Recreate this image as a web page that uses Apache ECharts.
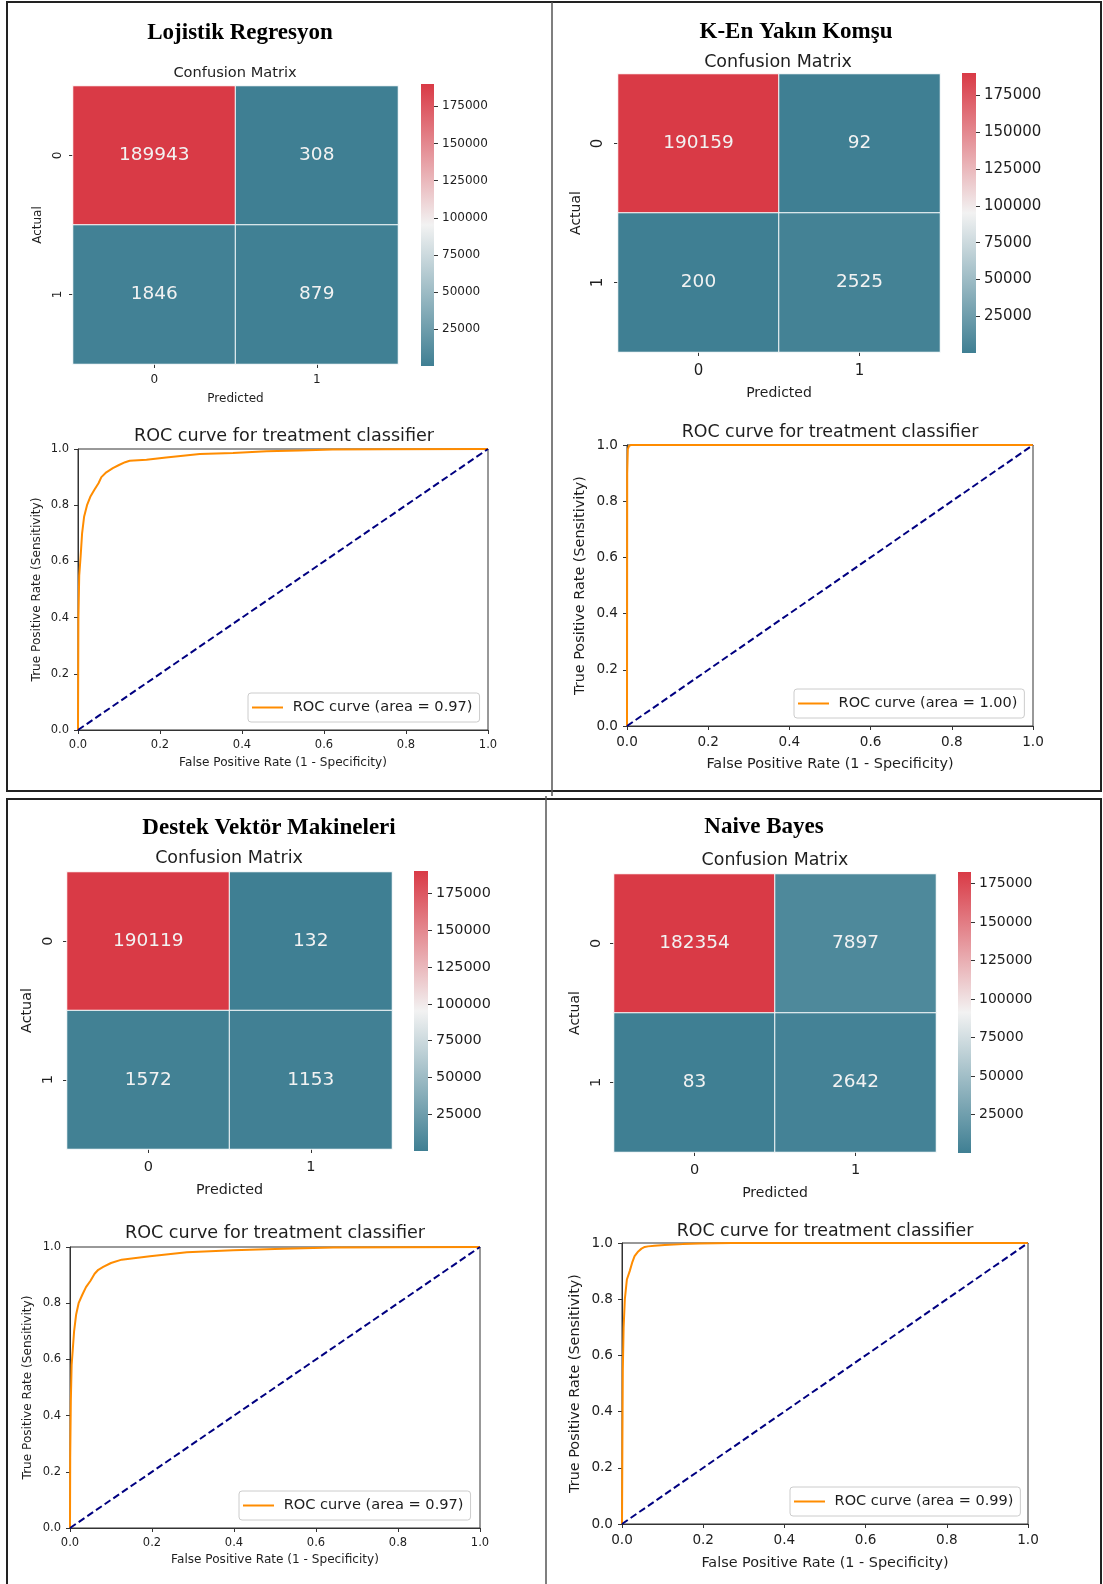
<!DOCTYPE html>
<html><head><meta charset="utf-8">
<script src="https://cdn.jsdelivr.net/npm/echarts@6/dist/echarts.min.js"></script>
<style>html,body{margin:0;padding:0;background:#fff}#c{width:1103px;height:1584px}</style>
</head><body><div id="c"></div>
<script>
// ---------- DATA ----------
const modelNames = ['Lojistik Regresyon', 'K-En Yakın Komşu', 'Destek Vektör Makineleri', 'Naive Bayes'];
const classLabels = ['0', '1'];
const cmLR  = [[189943, 308], [1846, 879]];
const cmKNN = [[190159, 92], [200, 2525]];
const cmSVM = [[190119, 132], [1572, 1153]];
const cmNB  = [[182354, 7897], [83, 2642]];
const aucValues = ['0.97', '1.00', '0.97', '0.99'];
const colorbarTicks = [25000, 50000, 75000, 100000, 125000, 150000, 175000];
const rocLR = [[0,0],[0.0005,0.2],[0.001,0.4],[0.003,0.55],[0.0065,0.62],[0.01,0.7],[0.015,0.76],[0.022,0.8],[0.03,0.83],[0.04,0.855],[0.05,0.878],[0.057,0.9],[0.069,0.917],[0.085,0.932],[0.1,0.943],[0.115,0.953],[0.126,0.958],[0.167,0.962],[0.215,0.97],[0.297,0.982],[0.378,0.986],[0.46,0.992],[0.54,0.995],[0.62,0.998],[0.75,0.999],[1,1]];
const rocKNN = [[0,0],[0.0005,0.9],[0.002,0.985],[0.005,0.997],[0.01,1],[1,1]];
const rocSVM = [[0,0],[0.0005,0.25],[0.002,0.45],[0.004,0.58],[0.006,0.62],[0.01,0.7],[0.015,0.76],[0.021,0.8],[0.03,0.83],[0.039,0.857],[0.05,0.88],[0.06,0.905],[0.069,0.919],[0.081,0.929],[0.1,0.943],[0.126,0.955],[0.195,0.967],[0.285,0.981],[0.398,0.988],[0.52,0.994],[0.642,0.998],[0.8,0.999],[1,1]];
const rocNB = [[0,0],[0.001,0.3],[0.002,0.55],[0.004,0.7],[0.007,0.8],[0.012,0.87],[0.019,0.9],[0.025,0.93],[0.031,0.953],[0.04,0.97],[0.048,0.98],[0.056,0.986],[0.064,0.988],[0.08,0.99],[0.105,0.993],[0.15,0.996],[0.19,0.998],[0.27,1],[1,1]];
const chanceLine = [[0,0],[1,1]];
const palette = ['#3f7f93', '#f2f2f2', '#d93a46'];

const cms = [cmLR, cmKNN, cmSVM, cmNB];
const rocs = [rocLR, rocKNN, rocSVM, rocNB];

// ---------- LAYOUT ----------
const panels = [
  {title:{x:240,y:33}, cmTitle:{x:235,y:73,fs:14.6}, hm:{l:73,t:86,w:325,h:278}, cb:{l:421,t:84,w:13,h:282},
   fsTick:12, fsLabel:12, xGap:29, yGap:29, xMargin:10, yMargin:9, cbFs:12,
   rocTitle:{x:284,y:436,fs:17.6}, rg:{l:78,t:449,w:410,h:281}, rocTick:11.5, rocLabel:12.1, rxGap:27, ryGap:35,
   legend:{l:248,t:693,fs:14.6}},
  {title:{x:796,y:32}, cmTitle:{x:778,y:62,fs:17.5}, hm:{l:618,t:74,w:322,h:278}, cb:{l:962,t:73,w:14,h:280},
   fsTick:15, fsLabel:14, xGap:34, yGap:35, xMargin:12, yMargin:12, cbFs:15,
   rocTitle:{x:830,y:432,fs:17.4}, rg:{l:627,t:445,w:406,h:281}, rocTick:13.6, rocLabel:14.4, rxGap:31, ryGap:40,
   legend:{l:794,t:689,fs:14.5}},
  {title:{x:269,y:828}, cmTitle:{x:229,y:858,fs:17.5}, hm:{l:67,t:872,w:325,h:277}, cb:{l:414,t:871,w:14,h:280},
   fsTick:14.5, fsLabel:14.3, xGap:34, yGap:33, xMargin:11, yMargin:11, cbFs:14.4,
   rocTitle:{x:275,y:1233,fs:17.6}, rg:{l:70,t:1247,w:410,h:281}, rocTick:11.5, rocLabel:12.1, rxGap:26, ryGap:36,
   legend:{l:239,t:1491,fs:14.6}},
  {title:{x:764,y:827}, cmTitle:{x:775,y:860,fs:17.4}, hm:{l:614,t:874,w:322,h:278}, cb:{l:958,t:872,w:13,h:281},
   fsTick:14.5, fsLabel:14, xGap:34, yGap:32, xMargin:10.5, yMargin:10.5, cbFs:14,
   rocTitle:{x:825,y:1231,fs:17.4}, rg:{l:622,t:1243,w:406,h:281}, rocTick:13.6, rocLabel:14.4, rxGap:32, ryGap:40,
   legend:{l:790,t:1487,fs:14.5}}
];

const FONT = "'DejaVu Sans', sans-serif";
const TXT = '#1e1e1e';
const AX = '#333333';

const option = {
  animation: false, backgroundColor: '#ffffff', textStyle: {fontFamily: FONT},
  title: [], grid: [], xAxis: [], yAxis: [], series: [], visualMap: [], legend: [], graphic: []
};

panels.forEach((p, i) => {
  const cm = cms[i];
  const flat = cm.flat();
  const vmin = Math.min(...flat), vmax = Math.max(...flat);
  const rocName = 'ROC curve (area = ' + aucValues[i] + ')';

  option.title.push({text: modelNames[i], left: p.title.x, top: p.title.y, textAlign: 'center', textVerticalAlign: 'middle', padding: 0,
    textStyle: {fontFamily: "'Liberation Serif', 'Times New Roman', serif", fontWeight: 'bold', fontSize: 23, color: '#000'}});
  option.title.push({text: 'Confusion Matrix', left: p.cmTitle.x, top: p.cmTitle.y, textAlign: 'center', textVerticalAlign: 'middle', padding: 0,
    textStyle: {fontFamily: FONT, fontWeight: 'normal', fontSize: p.cmTitle.fs, color: TXT}});
  option.title.push({text: 'ROC curve for treatment classifier', left: p.rocTitle.x, top: p.rocTitle.y, textAlign: 'center', textVerticalAlign: 'middle', padding: 0,
    textStyle: {fontFamily: FONT, fontWeight: 'normal', fontSize: p.rocTitle.fs, color: TXT}});

  const g = option.grid.length;
  option.grid.push({left: p.hm.l, top: p.hm.t, width: p.hm.w, height: p.hm.h, outerBoundsMode: 'none', containLabel: false});
  option.grid.push({left: p.cb.l, top: p.cb.t, width: p.cb.w, height: p.cb.h, outerBoundsMode: 'none', containLabel: false});
  option.grid.push({left: p.rg.l, top: p.rg.t, width: p.rg.w, height: p.rg.h, show: true, borderColor: AX, borderWidth: 1,
    backgroundColor: 'transparent', outerBoundsMode: 'none', containLabel: false});

  // heatmap axes
  option.xAxis.push({type: 'category', gridIndex: g, data: classLabels, position: 'bottom',
    axisLine: {show: false}, axisTick: {show: true, alignWithLabel: true, length: 4, lineStyle: {color: AX}},
    axisLabel: {fontSize: p.fsTick, color: TXT, margin: p.xMargin}, splitLine: {show: false},
    name: 'Predicted', nameLocation: 'middle', nameGap: p.xGap, nameTextStyle: {fontSize: p.fsLabel, color: TXT}});
  option.yAxis.push({type: 'category', gridIndex: g, data: classLabels, inverse: true,
    axisLine: {show: false}, axisTick: {show: true, alignWithLabel: true, length: 4, lineStyle: {color: AX}},
    axisLabel: {fontSize: p.fsTick, color: TXT, margin: p.yMargin, rotate: 90}, splitLine: {show: false},
    name: 'Actual', nameLocation: 'middle', nameGap: p.yGap, nameTextStyle: {fontSize: p.fsLabel, color: TXT}});

  // colorbar axes
  option.xAxis.push({type: 'category', gridIndex: g + 1, data: ['cb'], show: false});
  option.yAxis.push({type: 'value', gridIndex: g + 1, position: 'right', min: vmin, max: vmax, startValue: vmin,
    axisLine: {show: false}, splitLine: {show: false},
    axisTick: {show: true, length: 4, customValues: colorbarTicks, lineStyle: {color: AX}},
    axisLabel: {customValues: colorbarTicks, fontSize: p.cbFs, color: TXT, margin: 8, formatter: v => String(v)}});

  // ROC axes
  option.xAxis.push({type: 'value', gridIndex: g + 2, min: 0, max: 1, interval: 0.2,
    axisLine: {show: true, lineStyle: {color: AX}}, axisTick: {show: true, length: 4, lineStyle: {color: AX}},
    axisLabel: {fontSize: p.rocTick, color: TXT, margin: 9, formatter: v => v.toFixed(1)}, splitLine: {show: false},
    name: 'False Positive Rate (1 - Specificity)', nameLocation: 'middle', nameGap: p.rxGap, nameTextStyle: {fontSize: p.rocLabel, color: TXT}});
  option.yAxis.push({type: 'value', gridIndex: g + 2, min: 0, max: 1, interval: 0.2,
    axisLine: {show: true, lineStyle: {color: AX}}, axisTick: {show: true, length: 4, lineStyle: {color: AX}},
    axisLabel: {fontSize: p.rocTick, color: TXT, margin: 9, formatter: v => v.toFixed(1)}, splitLine: {show: false},
    name: 'True Positive Rate (Sensitivity)', nameLocation: 'middle', nameGap: p.ryGap, nameTextStyle: {fontSize: p.rocLabel, color: TXT}});

  const sHeat = option.series.length;
  option.series.push({type: 'heatmap', xAxisIndex: g, yAxisIndex: g,
    data: cm.flatMap((row, r) => row.map((v, c) => [c, r, v])),
    itemStyle: {borderColor: '#ffffff', borderWidth: 1},
    label: {show: true, color: '#f2f2f2', fontSize: 18.5, fontFamily: FONT, formatter: d => String(d.value[2])},
    emphasis: {disabled: true}});
  option.series.push({type: 'bar', xAxisIndex: g + 1, yAxisIndex: g + 1, data: [vmax], barWidth: '100%', silent: true,
    itemStyle: {color: new echarts.graphic.LinearGradient(0, 1, 0, 0,
      palette.map((c, k) => ({offset: k / (palette.length - 1), color: c})))}});
  option.series.push({type: 'line', name: rocName, xAxisIndex: g + 2, yAxisIndex: g + 2, data: rocs[i],
    symbol: 'none', showSymbol: false, color: '#ff8c00', lineStyle: {color: '#ff8c00', width: 2}, z: 3});
  option.series.push({type: 'line', name: 'chance', xAxisIndex: g + 2, yAxisIndex: g + 2, data: chanceLine,
    symbol: 'none', showSymbol: false, color: '#000080', lineStyle: {color: '#000080', width: 2, type: [7, 3.5]}, z: 4});

  option.visualMap.push({type: 'continuous', show: false, seriesIndex: sHeat, dimension: 2, min: vmin, max: vmax,
    inRange: {color: palette}});

  option.legend.push({data: [{name: rocName, icon: 'rect'}], left: p.legend.l, top: p.legend.t,
    itemWidth: 31, itemHeight: 2, itemGap: 0, padding: [7, 7, 7, 4], selectedMode: false,
    borderColor: '#cccccc', borderWidth: 1, borderRadius: 3, backgroundColor: '#ffffff',
    formatter: ' {name}', textStyle: {fontSize: p.legend.fs, color: TXT, fontFamily: FONT}});
});

// panel frames
option.graphic = [
  {type: 'rect', shape: {x: 7, y: 2, width: 1094, height: 789}, style: {fill: 'none', stroke: '#222', lineWidth: 2}, silent: true},
  {type: 'line', shape: {x1: 552, y1: 2, x2: 552, y2: 796}, style: {stroke: '#555', lineWidth: 1.5}, silent: true},
  {type: 'rect', shape: {x: 7, y: 799, width: 1094, height: 800}, style: {fill: 'none', stroke: '#222', lineWidth: 2}, silent: true},
  {type: 'line', shape: {x1: 546, y1: 796, x2: 546, y2: 1584}, style: {stroke: '#555', lineWidth: 1.5}, silent: true}
];

const chart = echarts.init(document.getElementById('c'), null, {renderer: 'canvas'});
chart.setOption(option);
</script>
</body></html>
